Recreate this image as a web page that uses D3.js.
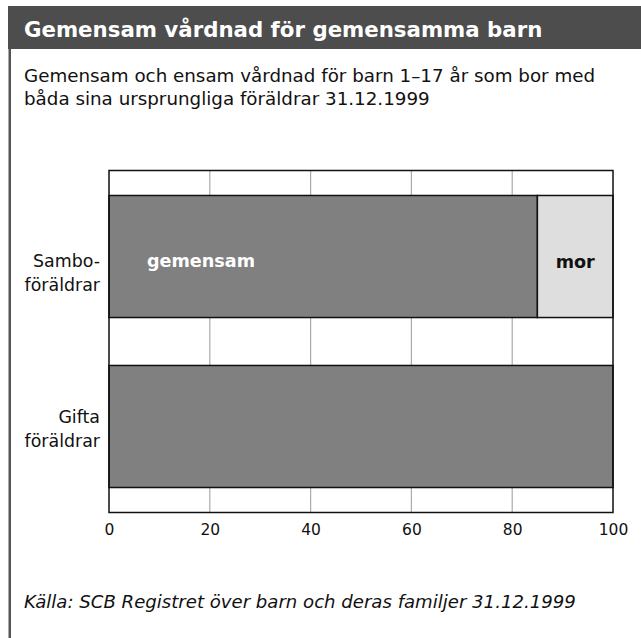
<!DOCTYPE html>
<meta charset="utf-8">
<style>
  body { margin: 0; background: #fff; }
  text { font-family: "DejaVu Sans", sans-serif; }
</style>
<body>
<script src="https://cdn.jsdelivr.net/npm/d3@7/dist/d3.min.js"></script>
<script>

    var categories = ["Sambo-\nföräldrar", "Gifta\nföräldrar"];
    var gemensam = [85, 100];
    var mor = [15, 0];
    var ticks = [0, 20, 40, 60, 80, 100];

    var w = 641, h = 638;
    var margin = {left: 109, right: 28, top: 170.5, bottom: 125.5};
    // label nudges, the source puts them a bit unevenly
    var labelShift = [10, -3.5];

    var svg = d3.select("body")
            .append("svg")
            .attr("width", w)
            .attr("height", h);

    // header bar + left rule
    svg.append("rect")
            .attr("x", 8).attr("y", 6)
            .attr("width", w - 8).attr("height", 43)
            .attr("fill", "#4d4d4d");
    svg.append("rect")
            .attr("x", 8.5).attr("y", 49)
            .attr("width", 2.5).attr("height", h - 49)
            .attr("fill", "#555");

    svg.append("text")
            .attr("x", 24).attr("y", 37)
            .attr("fill", "#fff")
            .attr("font-size", 21.3)
            .attr("font-weight", "bold")
            .text("Gemensam vårdnad för gemensamma barn");

    var sub = svg.append("text")
            .attr("y", 82)
            .attr("font-size", 18.3)
            .attr("fill", "#111");
    sub.append("tspan").attr("x", 24).text("Gemensam och ensam vårdnad för barn 1–17 år som bor med");
    sub.append("tspan").attr("x", 24).attr("dy", 23).text("båda sina ursprungliga föräldrar 31.12.1999");

    var x = d3.scaleLinear()
            .domain([0, 100])
            .range([margin.left, w - margin.right]);

    var y = d3.scaleBand()
            .domain(categories)
            .range([margin.top, h - margin.bottom])
            .paddingInner(0.282)
            .paddingOuter(0.147);

    // grid
    svg.append("g")
            .selectAll("line")
            .data(ticks.slice(1, -1))
            .enter()
            .append("line")
            .attr("x1", function(d) { return x(d); })
            .attr("x2", function(d) { return x(d); })
            .attr("y1", margin.top)
            .attr("y2", h - margin.bottom)
            .attr("stroke", "#aaa")
            .attr("stroke-width", 1.2);

    // bars
    svg.append("g")
            .selectAll("rect")
            .data(categories)
            .enter()
            .append("rect")
            .attr("x", x(0))
            .attr("y", function(d) { return y(d); })
            .attr("width", function(d, i) { return x(gemensam[i]) - x(0); })
            .attr("height", y.bandwidth())
            .attr("fill", "#808080")
            .attr("stroke", "#111")
            .attr("stroke-width", 1.5);

    svg.append("g")
            .selectAll("rect")
            .data(categories.filter(function(d, i) { return mor[i] > 0; }))
            .enter()
            .append("rect")
            .attr("x", function(d) { return x(gemensam[categories.indexOf(d)]); })
            .attr("y", function(d) { return y(d); })
            .attr("width", function(d) { return x(mor[categories.indexOf(d)]) - x(0); })
            .attr("height", y.bandwidth())
            .attr("fill", "#dedede")
            .attr("stroke", "#111")
            .attr("stroke-width", 1.5);

    // segment labels
    var c0 = y(categories[0]) + y.bandwidth() / 2;
    svg.append("text")
            .attr("x", 147).attr("y", c0 + 10)
            .attr("fill", "#fff")
            .attr("font-size", 17.6)
            .attr("font-weight", "bold")
            .text("gemensam");
    svg.append("text")
            .attr("x", (x(gemensam[0]) + x(100)) / 2).attr("y", c0 + 11)
            .attr("text-anchor", "middle")
            .attr("fill", "#111")
            .attr("font-size", 17.6)
            .attr("font-weight", "bold")
            .text("mor");

    // frame
    svg.append("rect")
            .attr("x", margin.left).attr("y", margin.top)
            .attr("width", x(100) - x(0))
            .attr("height", h - margin.bottom - margin.top)
            .attr("fill", "none")
            .attr("stroke", "#111")
            .attr("stroke-width", 1.5);

    // category labels
    svg.append("g")
            .selectAll("text")
            .data(categories)
            .enter()
            .append("text")
            .attr("text-anchor", "end")
            .attr("font-size", 17.4)
            .attr("fill", "#111")
            .each(function(d, k) {
                var lines = d.split("\n");
                var t = d3.select(this);
                var cy = y(d) + y.bandwidth() / 2 + labelShift[k];
                lines.forEach(function(l, i) {
                    t.append("tspan")
                            .attr("x", 100)
                            .attr("y", cy + i * 24.5)
                            .text(l);
                });
            });

    // x axis labels
    var axis = d3.axisBottom(x).tickValues(ticks).tickSize(0).tickPadding(0);
    var ag = svg.append("g")
            .attr("transform", "translate(0," + (h - margin.bottom) + ")")
            .call(axis);
    ag.select(".domain").remove();
    ag.selectAll("text")
            .attr("dy", null)
            .attr("y", 22.5)
            .attr("font-size", 15.5)
            .attr("font-family", "DejaVu Sans, sans-serif")
            .attr("fill", "#111");

    svg.append("text")
            .attr("x", 24).attr("y", 608)
            .attr("font-size", 18.1)
            .attr("font-style", "italic")
            .attr("fill", "#111")
            .text("Källa: SCB Registret över barn och deras familjer 31.12.1999");

</script>
